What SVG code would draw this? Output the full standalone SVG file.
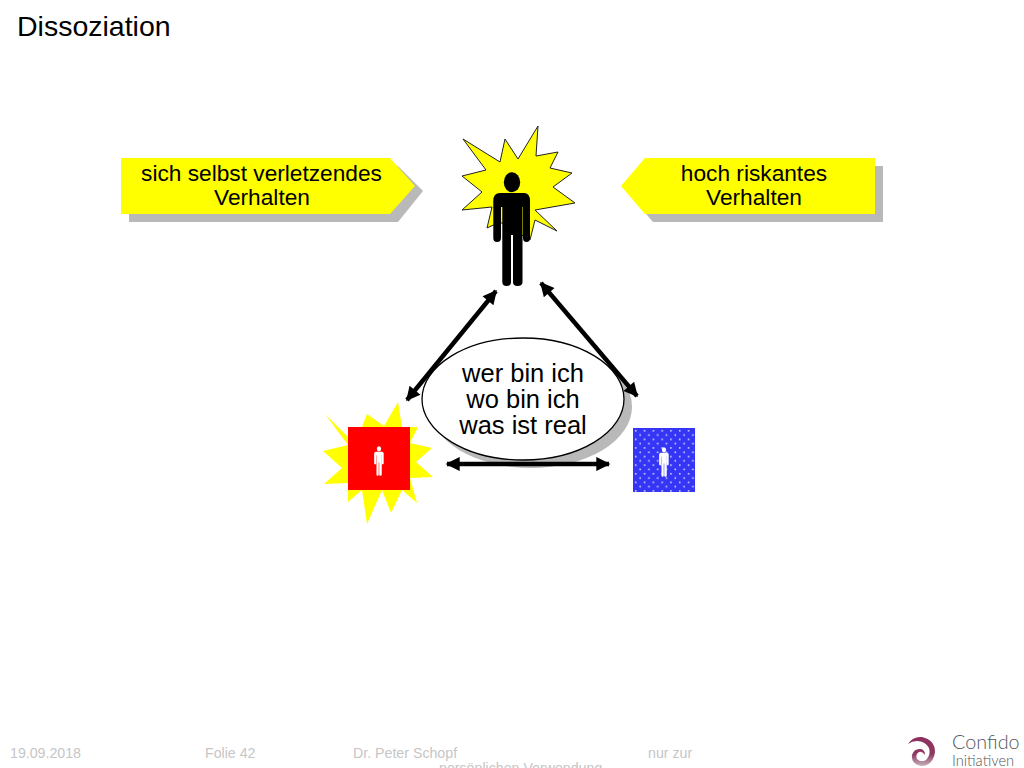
<svg xmlns="http://www.w3.org/2000/svg" width="1024" height="768" viewBox="0 0 1024 768">
<style>
text{font-family:"Liberation Sans",Arial,sans-serif;fill:#000;text-anchor:middle}
.l{font-size:22.700px}.e{font-size:25.500px}
.f{font-size:14.200px;fill:#c6c6c6;text-anchor:start}
.sh{fill:#b9b9b9}
.arr{stroke:#000;stroke-width:4.400;fill:none;marker-start:url(#h);marker-end:url(#h)}
.lb{font-family:"Lato","Open Sans",sans-serif;fill:#55565a;text-anchor:start;font-weight:300}
</style>
<defs>
<marker id="h" viewBox="0 0 10 10" refX="9" refY="5" markerWidth="3.600" markerHeight="3.200" orient="auto-start-reverse" markerUnits="strokeWidth"><path d="M0 0L10 5L0 10z" fill="#000"/></marker>
<pattern id="dots" width="8.800" height="8.600" patternUnits="userSpaceOnUse" x="633" y="428"><rect width="8.800" height="8.600" fill="#3535f5"/><rect x="2" y="2" width="1.500" height="1.500" fill="#e4e4ff"/><rect x="6.400" y="6.300" width="1.500" height="1.500" fill="#e4e4ff"/></pattern>
<linearGradient id="lg" x1="0" y1="0" x2="0" y2="1"><stop offset="0" stop-color="#8e2f5e"/><stop offset=".6" stop-color="#8e3a63"/><stop offset="1" stop-color="#c7b3bd"/></linearGradient>
<g id="person">
<ellipse cx="512" cy="182.300" rx="8.200" ry="10"/>
<path d="M500 193H524Q530 193 530 201V238Q530 242 526.500 242Q523 242 523 238V207H522.500V282Q522.500 286 517.500 286Q513 286 513 282V235H511V282Q511 286 506.500 286Q502.300 286 502.300 282V207H501V238Q501 242 497 242Q493.300 242 493.300 238V201Q493.300 193 500 193Z"/>
</g>
</defs>
<text x="17" y="36" style="font-size:28.500px;text-anchor:start">Dissoziation</text>
<g id="node-self-harm">
<path class="sh" d="M129 166H398L423 191L398 222H129Z"/>
<path d="M121 158H390L415 186L390 214H121Z" fill="#ffff00"/>
<text class="l" x="261.500" y="180.500">sich selbst verletzendes</text><text class="l" x="262" y="204.500">Verhalten</text>
</g>
<g id="node-risk">
<path class="sh" d="M653 166H883V222H653L629 194Z"/>
<path d="M645 158H875V214H645L621 186Z" fill="#ffff00"/>
<text class="l" x="754" y="181">hoch riskantes</text><text class="l" x="754" y="205">Verhalten</text>
</g>
<g id="node-center-person">
<path d="M463 139L500 162L505 139L518 159L538 126L536 156L558 152L550 168L572 173L553 187L575 203L535 210L557 231L535 220L530 240L500 222L487 228L492 207L462 210L482 192L462 176L486 170Z" fill="#ffff00" stroke="#222" stroke-width="1"/>
<use href="#person" fill="#000"/>
</g>
<g id="node-question">
<ellipse class="sh" cx="531" cy="407" rx="101" ry="61"/>
<ellipse cx="523" cy="399" rx="101" ry="61" fill="#fff" stroke="#000" stroke-width="1.300"/>
<text class="e" x="523" y="381.500">wer bin ich</text><text class="e" x="523" y="407.500">wo bin ich</text><text class="e" x="523" y="433.500">was ist real</text>
</g>
<g id="node-red">
<path d="M325 414L348 437L358 437L367 414L384 426L398 402L402 427L418 427L410 443L432 448L416 462L433 477L410 478L417 503L402 490L391 513L382 490L367 524L362 490L348 502L348 483L324 484L342 468L323 451L348 445Z" fill="#ffff00"/>
<rect x="348" y="427" width="62" height="63" fill="#f00"/>
<use href="#person" fill="#fff" transform="translate(379 461) scale(.26) translate(-512 -229)"/>
</g>
<g id="node-blue">
<rect x="633" y="428" width="62" height="64" fill="url(#dots)"/>
<use href="#person" fill="#fff" transform="translate(664 462) scale(.26) translate(-512 -229)"/>
</g>
<g id="connectors">
<path class="arr" d="M407 400L496 291"/>
<path class="arr" d="M541 283L637 396"/>
<path class="arr" d="M447 464H609"/>
</g>
<g id="footer">
<text class="f" x="10" y="758">19.09.2018</text>
<text class="f" x="205" y="758">Folie 42</text>
<text class="f" x="353" y="758">Dr. Peter Schopf</text>
<text class="f" x="648" y="758">nur zur</text>
<text class="f" x="439" y="773">persönlichen Verwendung</text>
</g>
<g id="logo">
<path d="M908 744Q913 736 922 737Q935 740 935 752Q933 766 921 766Q911 764 912 755Q914 748 921 749Q925 750 925 755Q922 751 919 752Q915 754 917 759Q921 763 926 760Q931 755 929 748Q925 741 917 741Q912 741 908 744Z" fill="url(#lg)"/>
<text class="lb" x="952" y="749" style="font-size:19.800px">Confido</text>
<text class="lb" x="952" y="766" style="font-size:14.700px">Initiativen</text>
</g>
</svg>
